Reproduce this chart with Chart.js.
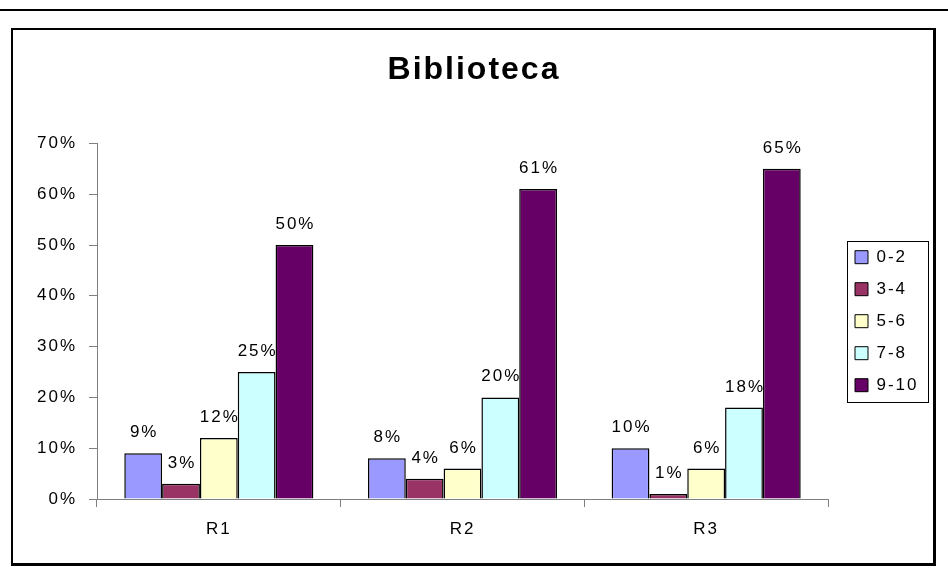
<!DOCTYPE html>
<html>
<head>
<meta charset="utf-8">
<script src="https://cdn.jsdelivr.net/npm/chart.js@4/dist/chart.umd.min.js"></script>
<style>
    html, body { margin: 0; padding: 0; background: #fff; }
    #raya { position: absolute; left: 0; top: 9px; width: 948px; height: 2px; background: #000; }
    #marco { position: absolute; left: 11px; top: 28px; width: 920px; height: 533px;
             border: 2px solid #000; border-right-width: 3px; border-bottom-width: 3px; }
    #grafica { position: absolute; left: 0; top: 0; }
</style>
</head>
<body>
<div id="raya"></div>
<div id="marco"></div>
<canvas id="grafica" width="948" height="574"></canvas>
<script>
(function () {
    "use strict";

    // Datos (porcentajes).
    var CATEGORIAS = ["R1", "R2", "R3"];
    var SERIES = ["0-2", "3-4", "5-6", "7-8", "9-10"];
    var VAL_0_2 = [9, 8, 10];
    var VAL_3_4 = [3, 4, 1];
    var VAL_5_6 = [12, 6, 6];
    var VAL_7_8 = [25, 20, 18];
    var VAL_9_10 = [50, 61, 65];
    var TICKS_Y = [0, 10, 20, 30, 40, 50, 60, 70];

    // Paleta clásica de Excel.
    var COLORES = ["#9999ff", "#993366", "#ffffcc", "#ccffff", "#660066"];
    var VALORES = [VAL_0_2, VAL_3_4, VAL_5_6, VAL_7_8, VAL_9_10];

    var FUENTE = "'Liberation Sans', Arial, sans-serif";
    var TAM = 17;
    var ESPACIADO = "2px";
    var PAD_LEY = 15;

    // Excel dibuja el texto con letras separadas; se imita con letterSpacing del canvas.
    var espaciado = {
        id: "espaciado",
        beforeUpdate: function (chart) { chart.ctx.letterSpacing = ESPACIADO; },
        beforeDraw: function (chart) { chart.ctx.letterSpacing = ESPACIADO; }
    };

    // Leyenda: ancho fijo, desplazada y con marco, como en Excel.
    var leyenda = {
        id: "leyendaMarco",
        beforeLayout: function (chart) {
            var leg = chart.legend;
            if (leg && !leg._parcheado) {
                var fitOrig = leg.fit;
                leg.fit = function () { fitOrig.call(this); this.width = 120; };
                leg._parcheado = true;
            }
        },
        afterLayout: function (chart) {
            chart.legend.left += 27 - PAD_LEY;
        },
        afterDraw: function (chart) {
            var leg = chart.legend;
            var ctx = chart.ctx;
            var x0 = leg.left + PAD_LEY - 8;
            var mid = (leg.top + leg.bottom) / 2;
            ctx.save();
            ctx.strokeStyle = "#000";
            ctx.lineWidth = 1;
            ctx.strokeRect(Math.round(x0) + 0.5, Math.round(mid - 80) + 0.5, 81, 161);
            ctx.restore();
        }
    };

    // Etiquetas de datos encima de cada barra.
    var etiquetas = {
        id: "etiquetas",
        afterDatasetsDraw: function (chart) {
            var ctx = chart.ctx;
            ctx.save();
            ctx.font = TAM + "px " + FUENTE;
            ctx.fillStyle = "#000";
            ctx.textAlign = "center";
            ctx.textBaseline = "alphabetic";
            chart.data.datasets.forEach(function (ds, i) {
                var meta = chart.getDatasetMeta(i);
                meta.data.forEach(function (bar, j) {
                    ctx.fillText(ds.data[j] + "%", bar.x + 1, bar.y - 16);
                });
            });
            ctx.restore();
        }
    };

    var datasets = SERIES.map(function (nombre, i) {
        return {
            label: nombre,
            data: VALORES[i],
            backgroundColor: COLORES[i],
            borderColor: "#000",
            borderWidth: 1.5,
            categoryPercentage: 0.776,
            barPercentage: 1.0
        };
    });

    new Chart(document.getElementById("grafica"), {
        type: "bar",
        data: { labels: CATEGORIAS, datasets: datasets },
        plugins: [espaciado, leyenda, etiquetas],
        options: {
            responsive: false,
            animation: false,
            events: [],
            layout: { padding: 0 },
            plugins: {
                tooltip: { enabled: false },
                title: {
                    display: true,
                    text: "Biblioteca",
                    color: "#000",
                    font: { family: FUENTE, size: 32, weight: "bold" },
                    padding: { top: 51, bottom: 54 }
                },
                legend: {
                    position: "right",
                    fullSize: false,
                    labels: {
                        color: "#000",
                        font: { family: FUENTE, size: TAM },
                        boxWidth: 13,
                        boxHeight: 13,
                        padding: PAD_LEY,
                        generateLabels: function (chart) {
                            return chart.data.datasets.map(function (ds, i) {
                                return {
                                    text: ds.label,
                                    fillStyle: ds.backgroundColor,
                                    strokeStyle: "#000",
                                    lineWidth: 1,
                                    fontColor: "#000",
                                    datasetIndex: i
                                };
                            });
                        }
                    }
                }
            },
            scales: {
                x: {
                    offset: true,
                    grid: { offset: true, drawOnChartArea: false, tickLength: 8, color: "#808080" },
                    border: { color: "#808080" },
                    ticks: { color: "#000", font: { family: FUENTE, size: TAM }, padding: 12 },
                    afterFit: function (s) { s.height = 75; }
                },
                y: {
                    min: 0,
                    max: 70,
                    afterBuildTicks: function (s) {
                        s.ticks = TICKS_Y.map(function (v) { return { value: v }; });
                    },
                    grid: { drawOnChartArea: false, tickLength: 8, color: "#808080" },
                    border: { color: "#808080" },
                    ticks: {
                        color: "#000",
                        font: { family: FUENTE, size: TAM },
                        padding: 12,
                        callback: function (v) { return v + "%"; }
                    },
                    afterFit: function (s) { s.width = 97; }
                }
            }
        }
    });
})();
</script>
</body>
</html>
